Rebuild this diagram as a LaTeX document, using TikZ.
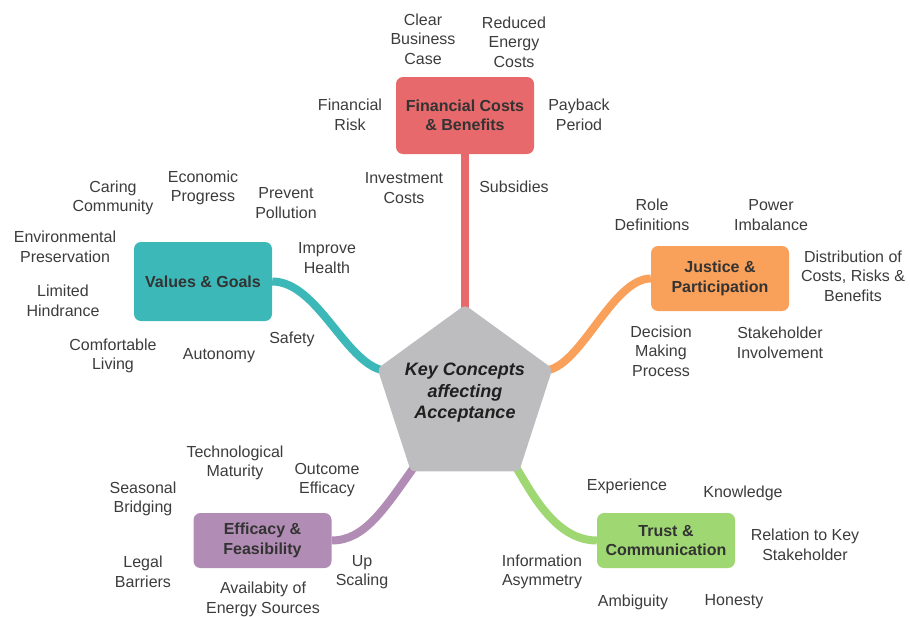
\documentclass[tikz,border=0pt]{standalone}
\usepackage{fontspec}
\setmainfont{Liberation Sans}
\usepackage{xcolor}
\usetikzlibrary{shapes.geometric,backgrounds,calc}

\definecolor{finred}{HTML}{E8696B}
\definecolor{valteal}{HTML}{3DB8B9}
\definecolor{jusorange}{HTML}{F9A05A}
\definecolor{effpurple}{HTML}{B18CB4}
\definecolor{trgreen}{HTML}{9FD873}
\definecolor{coregray}{HTML}{BDBDBF}
\definecolor{boxtext}{HTML}{333333}
\definecolor{ideatext}{HTML}{3C3C3C}

\begin{document}
\begin{tikzpicture}[
    x=1pt, y=-1pt,
    topic/.style={rectangle, rounded corners=7pt, minimum width=138pt, inner sep=0pt, align=center, text=boxtext, font=\fontsize{16}{19.5}\selectfont\bfseries},
    idea/.style={align=center, inner sep=0pt, text=ideatext, font=\fontsize{16}{19.5}\selectfont},
    core/.style={regular polygon, regular polygon sides=5, minimum size=184pt, inner sep=0pt, rounded corners=4pt, fill=coregray},
    link/.style={line width=8pt}
]
    \useasboundingbox (0,0) rectangle (910,616);

    \node [core] (key) at (465,397) {};
    \node [align=center, inner sep=0pt, font=\fontsize{18}{21.5}\selectfont\bfseries\itshape, text=black!88] (keytext) at (465,393) {Key Concepts\\affecting\\Acceptance};

    \node [topic, fill=finred, minimum height=77pt] (fin) at (465,115.5) {Financial Costs\\\& Benefits};
    \node [topic, fill=valteal, minimum height=79pt] (val) at (203,281.5) {Values \& Goals};
    \node [topic, fill=jusorange, minimum height=65pt] (jus) at (720,278.5) {Justice \&\\Participation};
    \node [topic, fill=effpurple, minimum height=55pt] (eff) at (262.5,540.5) {Efficacy \&\\Feasibility};
    \node [topic, fill=trgreen, minimum height=55pt] (tr) at (666,540.5) {Trust \&\\Communication};

    \begin{scope}[on background layer]
        \draw [link, finred] (fin.south) -- ($(key.corner 1)!10pt!(key.center)$);
        \draw [link, valteal] (val.east) .. controls +(45,0) and +(-38,-8) .. ($(key.corner 2)!6pt!(key.center)$);
        \draw [link, jusorange] (jus.west) .. controls +(-38,0) and +(35,-6) .. ($(key.corner 5)!6pt!(key.center)$);
        \draw [link, effpurple] (eff.east) .. controls +(33,0) and +(-30,42) .. ($(key.corner 3)!6pt!(key.center)$);
        \draw [link, trgreen] (tr.west) .. controls +(-42,0) and +(15,24) .. ($(key.corner 4)!6pt!(key.center)$);
    \end{scope}

    \node [idea] (clear) at (423,39) {Clear\\Business\\Case};
    \node [idea] (reduced) at (514,42) {Reduced\\Energy\\Costs};
    \node [idea] (finrisk) at (350,115) {Financial\\Risk};
    \node [idea] (payback) at (579,115) {Payback\\Period};
    \node [idea] (invest) at (404,188) {Investment\\Costs};
    \node [idea] (subsid) at (514,187) {Subsidies};

    \node [idea] (caring) at (113,198) {Caring\\Community};
    \node [idea] (econ) at (203,188) {Economic\\Progress};
    \node [idea] (pollut) at (286,203) {Prevent\\Pollution};
    \node [idea] (envir) at (65,247) {Environmental\\Preservation};
    \node [idea] (health) at (327,258) {Improve\\Health};
    \node [idea] (hindr) at (63,301) {Limited\\Hindrance};
    \node [idea] (comfort) at (113,356) {Comfortable\\Living};
    \node [idea] (autonomy) at (219,356) {Autonomy};
    \node [idea] (safety) at (292,339) {Safety};

    \node [idea] (roles) at (652,215) {Role\\Definitions};
    \node [idea] (power) at (771,215) {Power\\Imbalance};
    \node [idea] (distrib) at (853,276) {Distribution of\\Costs, Risks \&\\Benefits};
    \node [idea] (decision) at (661,351) {Decision\\Making\\Process};
    \node [idea] (involve) at (780,343) {Stakeholder\\Involvement};

    \node [idea] (maturity) at (235,463) {Technological\\Maturity};
    \node [idea] (outcome) at (327,480) {Outcome\\Efficacy};
    \node [idea] (seasonal) at (143,499) {Seasonal\\Bridging};
    \node [idea] (legal) at (143,572) {Legal\\Barriers};
    \node [idea] (upscale) at (362,572) {Up\\Scaling};
    \node [idea] (sources) at (263,599.5) {Availabity of\\Energy Sources};

    \node [idea] (exper) at (627,486) {Experience};
    \node [idea] (knowl) at (743,493) {Knowledge};
    \node [idea] (relation) at (805,545) {Relation to Key\\Stakeholder};
    \node [idea] (asym) at (542,572) {Information\\Asymmetry};
    \node [idea] (ambig) at (633,602) {Ambiguity};
    \node [idea] (honest) at (734,602) {Honesty};
\end{tikzpicture}
\end{document}
